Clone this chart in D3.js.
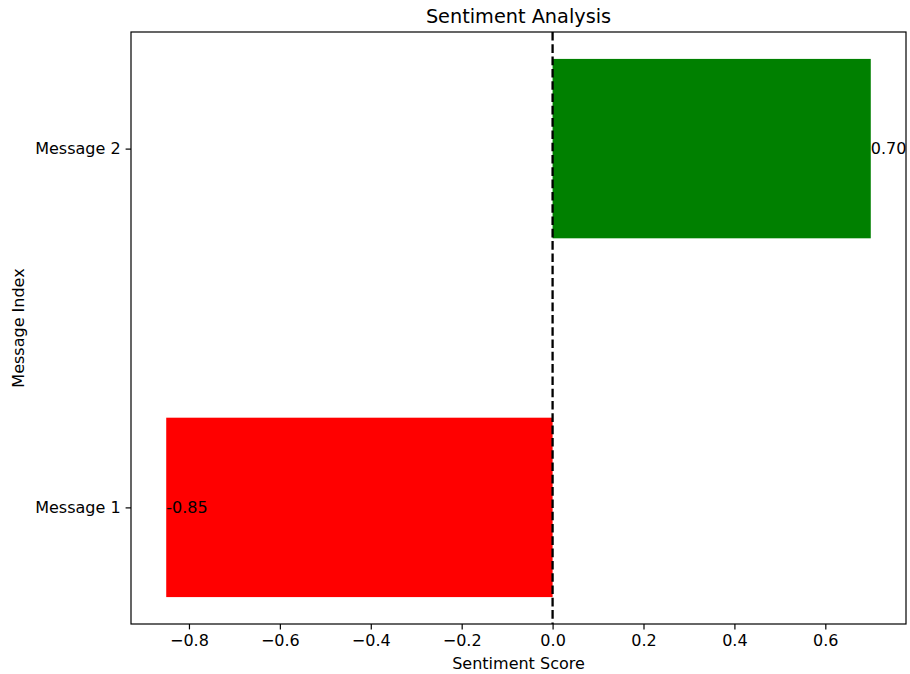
<!DOCTYPE html>
<html>
<head>
<meta charset="utf-8">
<script src="https://cdn.jsdelivr.net/npm/d3@7/dist/d3.min.js"></script>
<style>
html,body{margin:0;padding:0;background:#fff;}
svg text{font-family:"DejaVu Sans",sans-serif;}
</style>
</head>
<body>
<svg id="chart" width="910" height="674"></svg>
<script>
const categories = ["Message 1", "Message 2"];
const scores = [-0.85, 0.70];
const barColors = ["red", "green"];
const xTicks = [-0.8, -0.6, -0.4, -0.2, 0.0, 0.2, 0.4, 0.6];
const title = "Sentiment Analysis";
const xLabel = "Sentiment Score";
const yLabel = "Message Index";

const svg = d3.select("#chart");
const m = {left: 131, right: 906, top: 32, bottom: 624};
const fs = 16;

const xmin = d3.min(scores.concat([0])), xmax = d3.max(scores.concat([0]));
const xpad = (xmax - xmin) * 0.05;
const x = d3.scaleLinear().domain([xmin - xpad, xmax + xpad]).range([m.left, m.right]);
const barH = 0.5;
const ylo = -barH / 2, yhi = categories.length - 1 + barH / 2;
const ypad = (yhi - ylo) * 0.05;
const y = d3.scaleLinear().domain([ylo - ypad, yhi + ypad]).range([m.bottom, m.top]);

// bars
svg.append("g").selectAll("rect").data(scores).join("rect")
  .attr("x", d => Math.min(x(0), x(d)))
  .attr("width", d => Math.abs(x(d) - x(0)))
  .attr("y", (d, i) => y(i + barH / 2))
  .attr("height", (d, i) => y(i - barH / 2) - y(i + barH / 2))
  .attr("fill", (d, i) => barColors[i]);

// value labels
svg.append("g").selectAll("text").data(scores).join("text")
  .attr("x", d => x(d))
  .attr("y", (d, i) => y(i))
  .attr("dy", "0.35em")
  .attr("font-size", fs)
  .attr("fill", "#000")
  .text(d => d.toFixed(2));

// zero line
svg.append("line")
  .attr("x1", x(0)).attr("x2", x(0))
  .attr("y1", m.top).attr("y2", m.bottom)
  .attr("stroke", "#000").attr("stroke-width", 2.3)
  .attr("stroke-dasharray", "8.6,3.7");

// axes
const xAxis = d3.axisBottom(x).tickValues(xTicks)
  .tickFormat(d => d3.format(".1f")(d).replace("-", "\u2212"))
  .tickSizeInner(5.4).tickSizeOuter(0).tickPadding(5);
const gx = svg.append("g").attr("transform", `translate(0,${m.bottom})`).call(xAxis);
gx.select(".domain").remove();
gx.selectAll("line").attr("stroke", "#000").attr("stroke-width", 1.2);
gx.selectAll("text").attr("font-size", fs).attr("fill", "#000").attr("font-family", "DejaVu Sans");

const yAxis = d3.axisLeft(y).tickValues(categories.map((c, i) => i))
  .tickFormat(i => categories[i])
  .tickSizeInner(5.4).tickSizeOuter(0).tickPadding(5);
const gy = svg.append("g").attr("transform", `translate(${m.left},0)`).call(yAxis);
gy.select(".domain").remove();
gy.selectAll("line").attr("stroke", "#000").attr("stroke-width", 1.2);
gy.selectAll("text").attr("font-size", fs).attr("fill", "#000").attr("font-family", "DejaVu Sans");

// frame
svg.append("rect")
  .attr("x", m.left).attr("y", m.top)
  .attr("width", m.right - m.left).attr("height", m.bottom - m.top)
  .attr("fill", "none").attr("stroke", "#000").attr("stroke-width", 1.2);

// title & labels
svg.append("text").attr("x", (m.left + m.right) / 2).attr("y", 23)
  .attr("text-anchor", "middle").attr("font-size", 19.3).attr("fill", "#000").text(title);
svg.append("text").attr("x", (m.left + m.right) / 2).attr("y", 669)
  .attr("text-anchor", "middle").attr("font-size", fs).attr("fill", "#000").text(xLabel);
svg.append("text").attr("transform", `translate(23.5,${(m.top + m.bottom) / 2}) rotate(-90)`)
  .attr("text-anchor", "middle").attr("font-size", fs).attr("fill", "#000").text(yLabel);
</script>
</body>
</html>
